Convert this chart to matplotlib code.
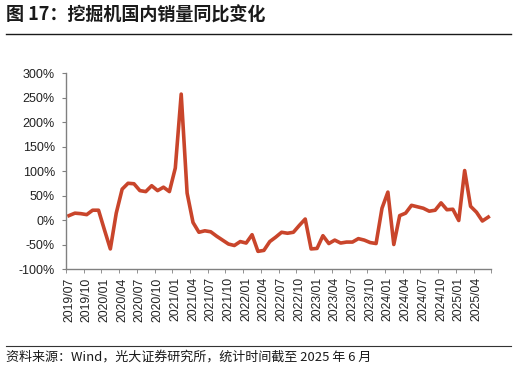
import matplotlib
matplotlib.use('Agg')
import matplotlib.pyplot as plt
from matplotlib.lines import Line2D
import numpy as np

# 挖掘机国内销量同比（%），2019/07 - 2025/06
months = []
for y in range(2019, 2026):
    for m in range(1, 13):
        if (y == 2019 and m < 7) or (y == 2025 and m > 6):
            continue
        months.append(f'{y}/{m:02d}')

yoy = [9, 14, 13, 11, 20, 20, -20, -59, 14, 63, 75, 74,
       60, 58, 70, 60, 67, 58, 106, 257, 55, -5, -25, -22,
       -24, -33, -41, -49, -52, -44, -47, -30, -64, -62, -44, -35,
       -25, -27, -25, -11, 2, -59, -58, -32, -48, -41, -47, -45,
       -45, -38, -41, -46, -48, 24, 57, -50, 9, 14, 30, 27,
       24, 18, 20, 35, 21, 22, -1, 101, 28, 16, -2, 6]

yticks = [-100, -50, 0, 50, 100, 150, 200, 250, 300]

cjk = ['Noto Sans CJK SC', 'DejaVu Sans']
plt.rcParams['font.family'] = ['Liberation Sans', 'DejaVu Sans']

fig = plt.figure(figsize=(5.16, 3.67), dpi=100)
ax = fig.add_axes([0.128, 0.267, 0.824, 0.534])

x = np.arange(len(yoy))
ax.plot(x, yoy, color='#C9452B', lw=2.6, solid_joinstyle='round')

ax.set_xlim(-0.5, len(yoy) - 0.5)
ax.set_ylim(-100, 300)
ax.set_yticks(yticks)
ax.set_yticklabels([f'{v}%' for v in yticks], fontsize=9, color='#222222')

lab_pos = x[::3]
ax.set_xticks(lab_pos)
ax.set_xticklabels([months[i] for i in lab_pos], rotation=90, fontsize=8.8, color='#222222')
ax.tick_params(axis='x', which='major', length=0, pad=6)
ax.set_xticks(np.arange(-0.5, len(yoy), 3), minor=True)
ax.tick_params(axis='x', which='minor', length=3, color='#808080')
ax.tick_params(axis='y', length=3, color='#808080', pad=5)

for s in ['top', 'right']:
    ax.spines[s].set_visible(False)
for s in ['left', 'bottom']:
    ax.spines[s].set_color('#808080')
    ax.spines[s].set_linewidth(1)

fig.text(0.012, 0.958, '图 17：挖掘机国内销量同比变化', family=cjk, fontsize=13,
         fontweight='bold', va='center', ha='left', color='#1a1a1a')
fig.add_artist(Line2D([0.012, 0.99], [0.907, 0.907], transform=fig.transFigure,
                      color='#1a1a1a', lw=1))
fig.add_artist(Line2D([0.012, 0.99], [0.058, 0.058], transform=fig.transFigure,
                      color='#333333', lw=0.8))
fig.text(0.012, 0.028, '资料来源：Wind，光大证券研究所，统计时间截至 2025 年 6 月', family=cjk,
         fontsize=9.4, va='center', ha='left', color='#1a1a1a')

fig.savefig('out.png', dpi=100)
